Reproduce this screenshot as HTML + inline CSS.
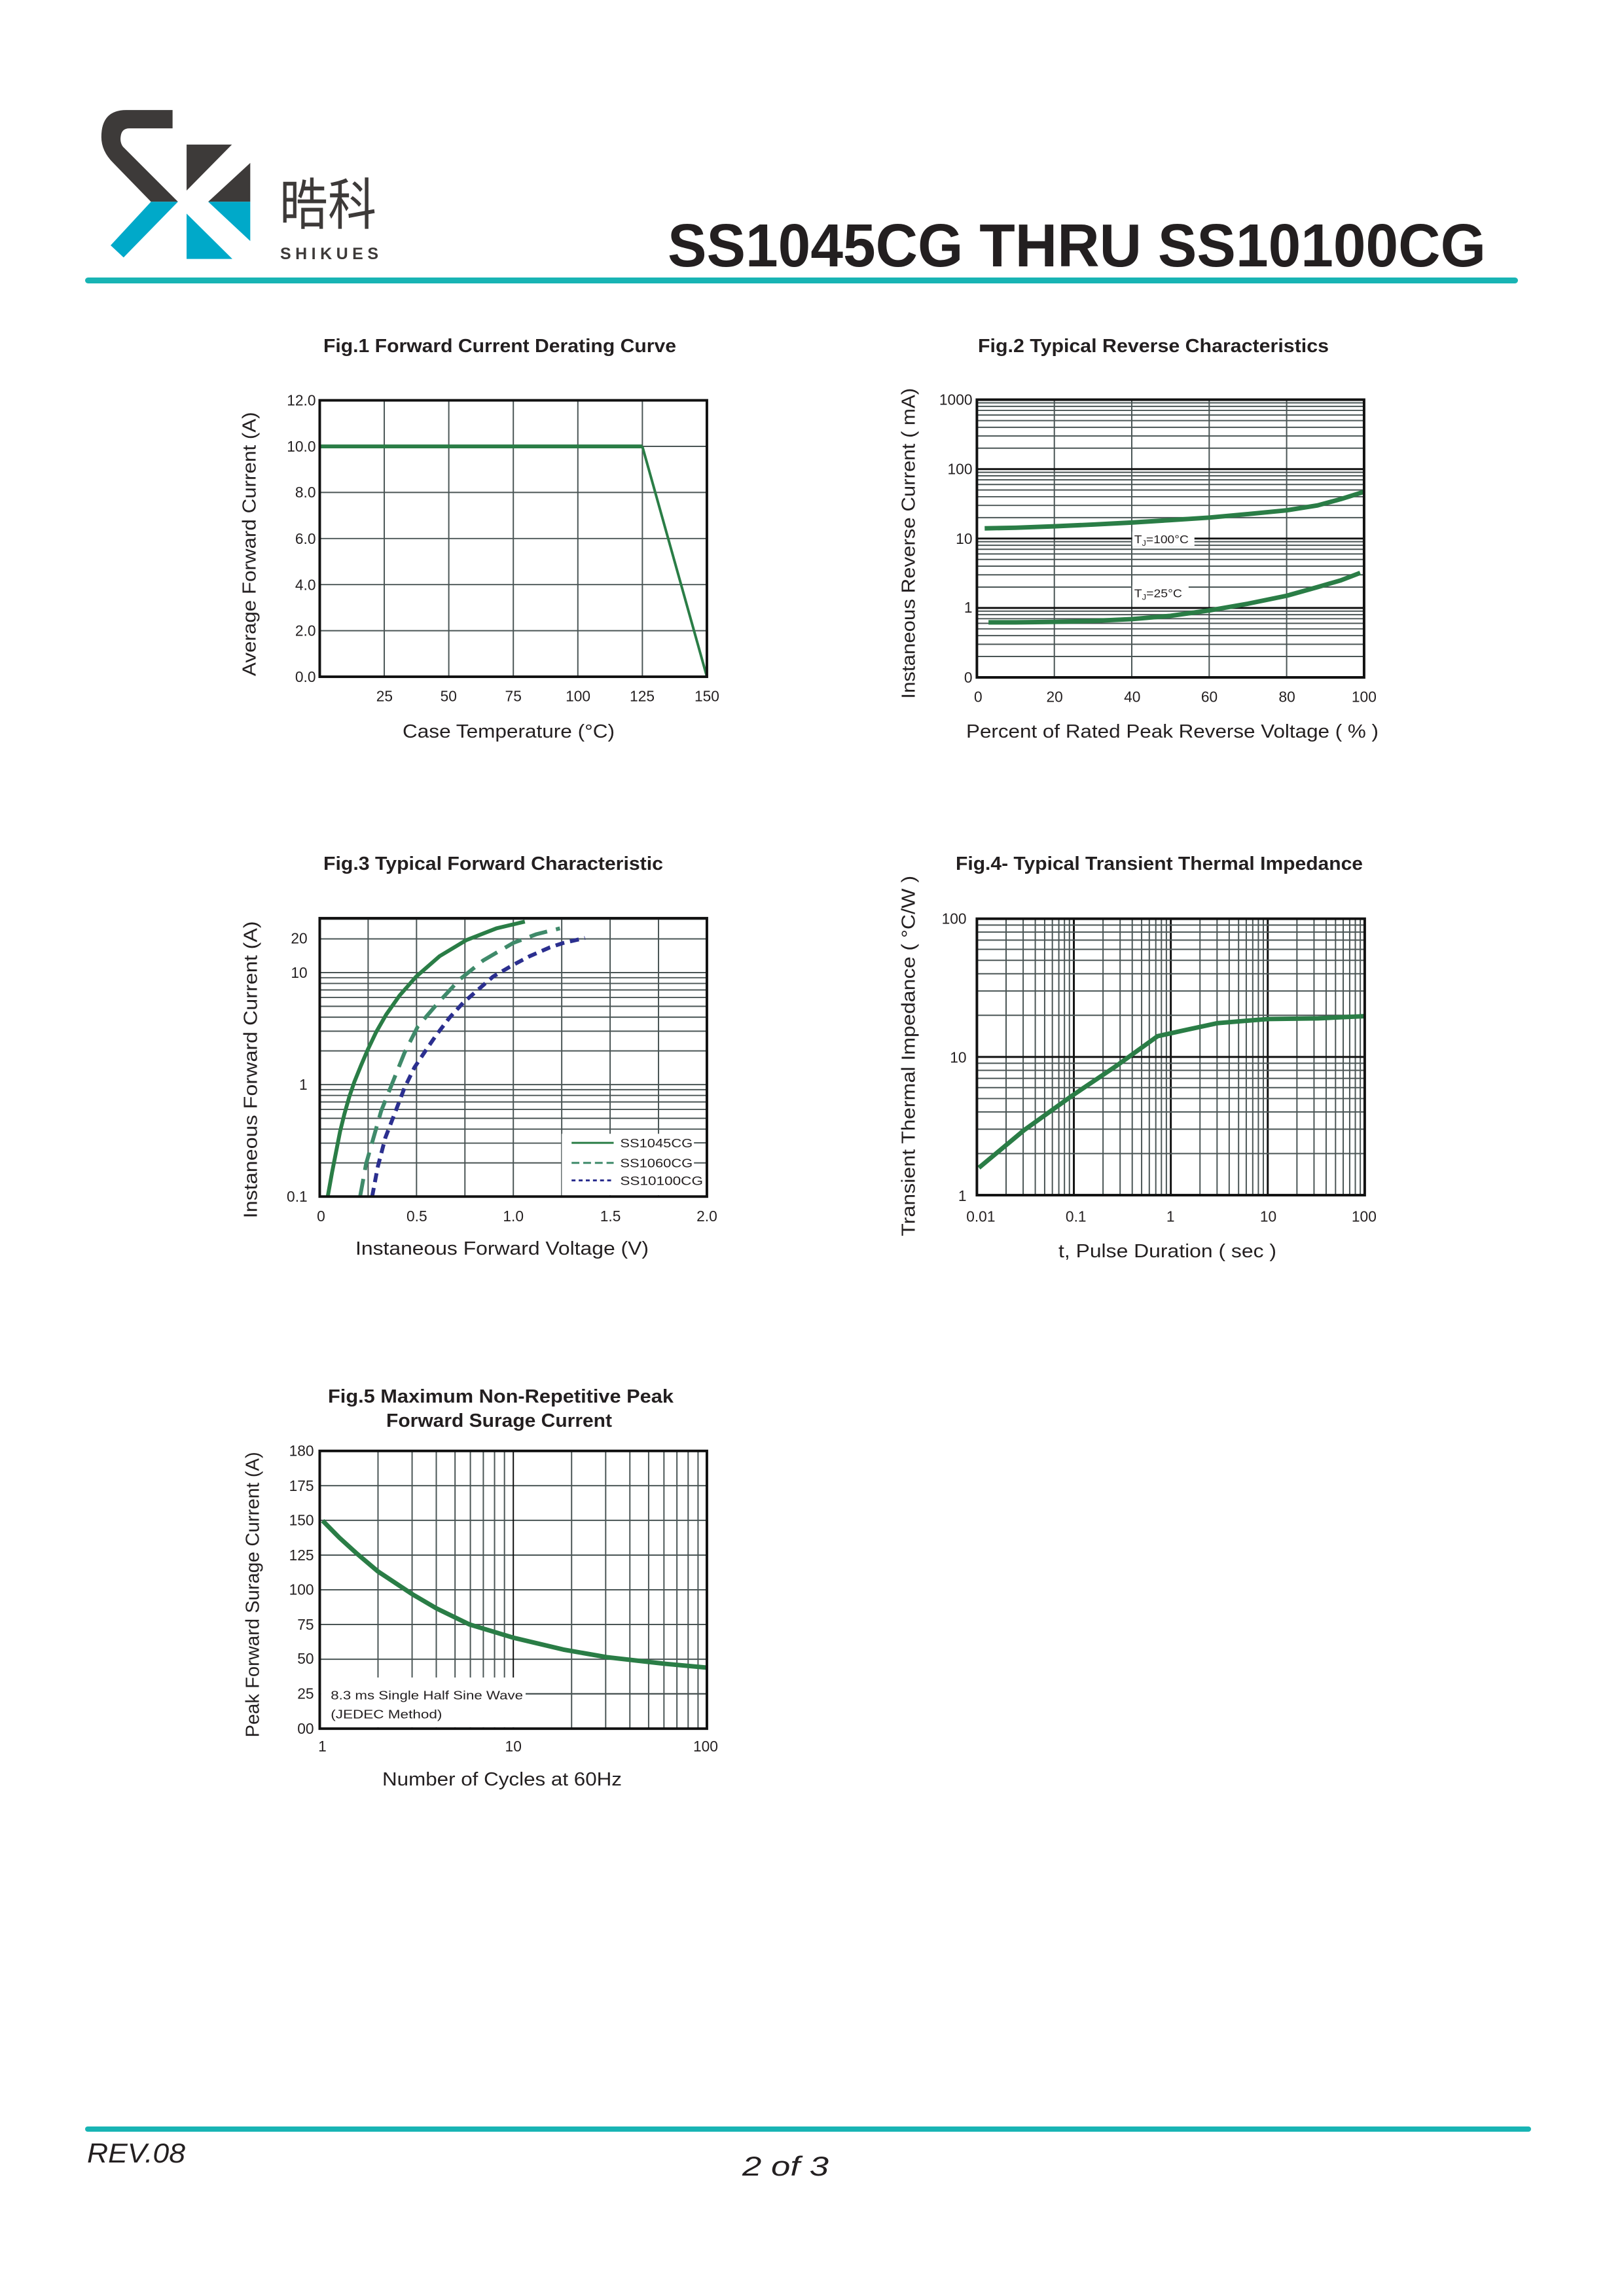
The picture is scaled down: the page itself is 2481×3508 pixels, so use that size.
<!DOCTYPE html>
<html><head><meta charset="utf-8"><style>
html,body{margin:0;padding:0;background:#fff}
svg{display:block}
text{font-family:"Liberation Sans",sans-serif;fill:#231f20}
.t{font-weight:bold}
</style></head><body>
<svg id="s" width="2481" height="3508" viewBox="0 0 2481 3508" xmlns="http://www.w3.org/2000/svg">
<rect width="2481" height="3508" fill="#fff"/>
<!-- logo -->
<g transform="translate(140,150) scale(0.3297)">
<path d="M375,55 L160,55 Q45,55 45,180 Q45,245 100,300 L275,480 L400,480 L145,225 Q130,205 135,175 Q140,140 175,140 L375,140 Z" fill="#3d3a39"/>
<path d="M275,480 L400,480 L148,738 L88,682 Z" fill="#00a9c9"/>
<path d="M440,215 L650,215 L440,428 Z" fill="#3d3a39"/>
<path d="M540,480 L735,300 L735,480 Z" fill="#3d3a39"/>
<path d="M540,480 L735,480 L735,662 Z" fill="#00a9c9"/>
<path d="M440,535 L652,745 L440,745 Z" fill="#00a9c9"/>
</g>
<text x="427" y="343" font-size="85" textLength="148" lengthAdjust="spacingAndGlyphs" style='font-family:"Liberation Sans","Noto Sans CJK SC",sans-serif;fill:#3d3a39'>晧科</text>
<text x="428" y="396" font-size="25" font-weight="bold" textLength="150" lengthAdjust="spacing" style="fill:#3d3a39">SHIKUES</text>
<text x="1020" y="407" font-size="93" font-weight="bold" textLength="1250" lengthAdjust="spacingAndGlyphs">SS1045CG THRU SS10100CG</text>
<rect x="130" y="424" width="2189" height="9" rx="4.5" fill="#18b4b4"/>
<!-- footer -->
<rect x="130" y="3249" width="2209" height="8" rx="4" fill="#18b4b4"/>
<text x="133" y="3304" font-size="42" font-style="italic" textLength="150" lengthAdjust="spacingAndGlyphs">REV.08</text>
<text x="1134" y="3324" font-size="42" font-style="italic" textLength="132" lengthAdjust="spacingAndGlyphs">2 of 3</text>

<!-- titles / x labels -->
<text class="t" x="494" y="538" font-size="29" textLength="539" lengthAdjust="spacingAndGlyphs">Fig.1  Forward Current Derating Curve</text>
<text x="615" y="1127" font-size="29" textLength="324" lengthAdjust="spacingAndGlyphs">Case Temperature (°C)</text>
<text class="t" x="1494" y="538" font-size="29" textLength="536" lengthAdjust="spacingAndGlyphs">Fig.2  Typical Reverse Characteristics</text>
<text x="1476" y="1127" font-size="29" textLength="630" lengthAdjust="spacingAndGlyphs">Percent of Rated Peak Reverse Voltage ( % )</text>
<text class="t" x="494" y="1329" font-size="29" textLength="519" lengthAdjust="spacingAndGlyphs">Fig.3  Typical Forward Characteristic</text>
<text x="543" y="1917" font-size="29" textLength="448" lengthAdjust="spacingAndGlyphs">Instaneous Forward Voltage (V)</text>
<text class="t" x="1460" y="1329" font-size="29" textLength="622" lengthAdjust="spacingAndGlyphs">Fig.4- Typical Transient Thermal Impedance</text>
<text x="1617" y="1921" font-size="29" textLength="333" lengthAdjust="spacingAndGlyphs">t, Pulse Duration ( sec )</text>
<text class="t" x="501" y="2143" font-size="29" textLength="528" lengthAdjust="spacingAndGlyphs">Fig.5  Maximum Non-Repetitive Peak</text>
<text class="t" x="590" y="2180" font-size="29" textLength="345" lengthAdjust="spacingAndGlyphs">Forward Surage Current</text>
<text x="584" y="2728" font-size="29" textLength="366" lengthAdjust="spacingAndGlyphs">Number of Cycles at 60Hz</text>

<!-- Fig1 -->
<g transform="matrix(0.9891,0,0,0.9891,3.8,6.3)">
<g id="f1g"></g><g id="f1c"></g>
<text transform="translate(391,834) rotate(-90)" text-anchor="middle" font-size="29" textLength="408" lengthAdjust="spacingAndGlyphs">Average Forward Current (A)</text>
<g font-size="23" text-anchor="end">
<text x="484" y="620">12.0</text><text x="484" y="691">10.0</text><text x="484" y="762">8.0</text><text x="484" y="834">6.0</text><text x="484" y="905">4.0</text><text x="484" y="976">2.0</text><text x="484" y="1047">0.0</text>
</g>
<g font-size="23" text-anchor="middle">
<text x="590" y="1077">25</text><text x="689" y="1077">50</text><text x="789" y="1077">75</text><text x="889" y="1077">100</text><text x="988" y="1077">125</text><text x="1088" y="1077">150</text>
</g>
<g id="f1b"></g>
</g>

<!-- Fig2 -->
<g transform="matrix(0.9891,0,0,0.9891,14.7,6.3)">
<g id="f2g"></g><g id="f2c"></g>
<text transform="translate(1398,833) rotate(-90)" text-anchor="middle" font-size="29" textLength="480" lengthAdjust="spacingAndGlyphs">Instaneous Reverse Current ( mA)</text>
<g font-size="23" text-anchor="end">
<text x="1487" y="619">1000</text><text x="1487" y="726">100</text><text x="1487" y="834">10</text><text x="1487" y="940">1</text><text x="1487" y="1048">0</text>
</g>
<g font-size="23" text-anchor="middle">
<text x="1496" y="1078">0</text><text x="1614" y="1078">20</text><text x="1734" y="1078">40</text><text x="1853" y="1078">60</text><text x="1973" y="1078">80</text><text x="2092" y="1078">100</text>
</g>
<rect x="1734" y="815" width="96" height="22" fill="#fff"/>
<text x="1737" y="833" font-size="18" textLength="84" lengthAdjust="spacingAndGlyphs">T<tspan font-size="12" dy="4">J</tspan><tspan dy="-4">=100°C</tspan></text>
<rect x="1734" y="898" width="87" height="22" fill="#fff"/>
<text x="1737" y="916" font-size="18" textLength="74" lengthAdjust="spacingAndGlyphs">T<tspan font-size="12" dy="4">J</tspan><tspan dy="-4">=25°C</tspan></text>
<g id="f2b"></g>
</g>

<!-- Fig3 -->
<g transform="matrix(0.9891,0,0,0.9891,3.8,14.2)">
<g id="f3g"></g><g id="f3c"></g>
<text transform="translate(393,1638) rotate(-90)" text-anchor="middle" font-size="29" textLength="459" lengthAdjust="spacingAndGlyphs">Instaneous Forward Current  (A)</text>
<g font-size="23" text-anchor="end">
<text x="471" y="1443">20</text><text x="471" y="1496">10</text><text x="471" y="1669">1</text><text x="471" y="1842">0.1</text>
</g>
<g font-size="23" text-anchor="middle">
<text x="492" y="1872">0</text><text x="640" y="1872">0.5</text><text x="789" y="1872">1.0</text><text x="939" y="1872">1.5</text><text x="1088" y="1872">2.0</text>
</g>
<rect x="864" y="1737" width="222" height="95" fill="#fff"/>
<line x1="879" y1="1751" x2="944" y2="1751" stroke="#2a7d46" stroke-width="3"/>
<line x1="879" y1="1782" x2="944" y2="1782" stroke="#3f8a6a" stroke-width="3" stroke-dasharray="12,6"/>
<line x1="879" y1="1809" x2="944" y2="1809" stroke="#2b2f8f" stroke-width="3" stroke-dasharray="6,5"/>
<text x="954" y="1758" font-size="19" textLength="112" lengthAdjust="spacingAndGlyphs">SS1045CG</text>
<text x="954" y="1789" font-size="19" textLength="112" lengthAdjust="spacingAndGlyphs">SS1060CG</text>
<text x="954" y="1816" font-size="19" textLength="128" lengthAdjust="spacingAndGlyphs">SS10100CG</text>
<line x1="1068" y1="1751" x2="1088" y2="1751" stroke="#4a5555" stroke-width="2"/>
<line x1="1068" y1="1782" x2="1088" y2="1782" stroke="#4a5555" stroke-width="2"/>
<g id="f3b"></g>
</g>

<!-- Fig4 -->
<g transform="matrix(0.9891,0,0,0.9891,14.7,15.0)">
<g id="f4g"></g><g id="f4c"></g>
<text transform="translate(1398,1616) rotate(-90)" text-anchor="middle" font-size="29" textLength="557" lengthAdjust="spacingAndGlyphs">Transient Thermal Impedance ( °C/W )</text>
<g font-size="23" text-anchor="end">
<text x="1478" y="1412">100</text><text x="1478" y="1626">10</text><text x="1478" y="1840">1</text>
</g>
<g font-size="23" text-anchor="middle">
<text x="1500" y="1872">0.01</text><text x="1647" y="1872">0.1</text><text x="1793" y="1872">1</text><text x="1944" y="1872">10</text><text x="2092" y="1872">100</text>
</g>
<g id="f4b"></g>
</g>

<!-- Fig5 -->
<g transform="matrix(0.9891,0,0,0.9891,3.8,24.0)">
<g id="f5g"></g><g id="f5c"></g>
<text transform="translate(396,2439) rotate(-90)" text-anchor="middle" font-size="29" textLength="441" lengthAdjust="spacingAndGlyphs">Peak Forward Surage Current (A)</text>
<g font-size="23" text-anchor="end">
<text x="481" y="2225">180</text><text x="481" y="2279">175</text><text x="481" y="2332">150</text><text x="481" y="2386">125</text><text x="481" y="2439">100</text><text x="481" y="2493">75</text><text x="481" y="2546">50</text><text x="481" y="2600">25</text><text x="481" y="2654">00</text>
</g>
<g font-size="23" text-anchor="middle">
<text x="494" y="2681">1</text><text x="789" y="2681">10</text><text x="1086" y="2681">100</text>
</g>
<rect x="492" y="2567" width="316" height="77" fill="#fff"/>
<line x1="808" y1="2592" x2="1088" y2="2592" stroke="#4a5555" stroke-width="2"/>
<text x="507" y="2601" font-size="19" textLength="297" lengthAdjust="spacingAndGlyphs">8.3 ms Single Half Sine Wave</text>
<text x="507" y="2630" font-size="19" textLength="172" lengthAdjust="spacingAndGlyphs">(JEDEC Method)</text>
<g id="f5b"></g>
</g>
</svg>
<script>
var NS="http://www.w3.org/2000/svg";
function $(i){return document.getElementById(i)}
function L(p,x1,y1,x2,y2,c,w){var e=document.createElementNS(NS,"line");e.setAttribute("x1",x1);e.setAttribute("y1",y1);e.setAttribute("x2",x2);e.setAttribute("y2",y2);e.setAttribute("stroke",c||"#4a5555");e.setAttribute("stroke-width",w||2);p.appendChild(e);}
function P(C,pts,c,w,dash){var e=document.createElementNS(NS,"polyline");e.setAttribute("points",pts.map(function(p){return p[0].toFixed(1)+","+p[1].toFixed(1)}).join(" "));e.setAttribute("fill","none");e.setAttribute("stroke",c);e.setAttribute("stroke-width",w);e.setAttribute("stroke-linejoin","round");if(dash)e.setAttribute("stroke-dasharray",dash);C.appendChild(e);}
function box(B,x0,y0,x1,y1){var e=document.createElementNS(NS,"rect");e.setAttribute("x",x0);e.setAttribute("y",y0);e.setAttribute("width",x1-x0);e.setAttribute("height",y1-y0);e.setAttribute("fill","none");e.setAttribute("stroke","#111");e.setAttribute("stroke-width",4);B.appendChild(e);}
var GR="#4a5555";
// Fig1
(function(){var G=$("f1g"),C=$("f1c"),x0=490,x1=1088,y0=612,y1=1039;
for(var i=1;i<6;i++){var x=x0+i*(x1-x0)/6;L(G,x,y0,x,y1);}
for(var j=1;j<6;j++){var y=y1-j*(y1-y0)/6;L(G,x0,y,x1,y);}
var yy=y1-10/12*(y1-y0),xx=x0+125/150*(x1-x0);
P(C,[[x0,yy],[xx,yy]],"#2a7d46",6);P(C,[[xx,yy],[x1,y1]],"#2a7d46",4);
box($("f1b"),x0,y0,x1,y1);})();
// Fig2
(function(){var G=$("f2g"),C=$("f2c"),x0=1494,x1=2092,y0=611,y1=1040,d=(y1-y0)/4;
for(var i=1;i<5;i++){var x=x0+i*(x1-x0)/5;L(G,x,y0,x,y1);}
for(var k=0;k<4;k++){for(var m=1;m<10;m++){var y=y1-(k+Math.log10(m))*d;L(G,x0,y,x1,y,m==1?"#111":GR,m==1?3:2);}}
function Y(v){return y1-(Math.log10(v)+1)*d}function X(p){return x0+p/100*(x1-x0)}
var a=[[2,14],[10,14.3],[20,15],[30,15.9],[40,17],[50,18.4],[60,20],[70,22.5],[80,25.5],[88,30],[94,37],[100,47]];
var b=[[3,0.62],[10,0.62],[20,0.63],[30,0.65],[40,0.69],[50,0.77],[60,0.92],[70,1.15],[80,1.5],[88,2.0],[94,2.5],[99,3.2]];
P(C,a.map(function(p){return[X(p[0]),Y(p[1])]}),"#2a7d46",7);
P(C,b.map(function(p){return[X(p[0]),Y(p[1])]}),"#2a7d46",7);
box($("f2b"),x0,y0,x1,y1);})();
// Fig3
(function(){var G=$("f3g"),C=$("f3c"),x0=490,x1=1088,y0=1404,y1=1834,d=173;
for(var i=1;i<8;i++){var x=x0+i*(x1-x0)/8;L(G,x,y0,x,y1);}
for(var k=0;k<3;k++){for(var m=1;m<10;m++){var y=y1-(k+Math.log10(m))*d;if(y>y0)L(G,x0,y,x1,y,(k==2&&m==5)?"#111":GR,2);}}
function f(p){return[350+p[0]/1.9375,1300+p[1]/2.214]}
P(C,[[295,1183],[308,1100],[320,1030],[332,960],[345,900],[360,840],[375,790],[395,733],[415,680],[440,620],[470,560],[510,495],[560,430],[630,360],[710,305],[800,265],[885,242]].map(f),"#2a7d46",6);
P(C,[[392,1183],[410,1070],[430,990],[455,890],[490,790],[525,690],[565,600],[625,520],[690,440],[760,375],[850,315],[920,285],[990,265]].map(f),"#3f8a6a",6,"28,14");
P(C,[[428,1183],[445,1080],[468,980],[495,900],[525,810],[555,740],[590,680],[620,630],[660,570],[700,520],[740,480],[790,430],[850,390],[900,360],[960,330],[1000,315],[1065,298]].map(f),"#2b2f8f",6,"14,9");
box($("f3b"),x0,y0,x1,y1);})();
// Fig4
(function(){var G=$("f4g"),C=$("f4c"),x0=1494,x1=2093,y0=1404,y1=1831,dx=(x1-x0)/4,dy=(y1-y0)/2;
for(var k=0;k<4;k++){for(var m=1;m<10;m++){var x=x0+(k+Math.log10(m))*dx;L(G,x,y0,x,y1,m==1?"#111":GR,m==1?3:2);}}
for(var k=0;k<2;k++){for(var m=1;m<10;m++){var y=y1-(k+Math.log10(m))*dy;L(G,x0,y,x1,y,m==1?"#111":GR,m==1?3:2);}}
function f(p){return[1350+p[0]/1.9375,1380+p[1]/2.98]}
P(C,[[285,1218],[420,1045],[565,885],[700,745],[820,612],[900,585],[1000,552],[1150,533],[1300,530],[1440,520]].map(f),"#2a7d46",7);
box($("f4b"),x0,y0,x1,y1);})();
// Fig5
(function(){var G=$("f5g"),C=$("f5c"),x0=490,x1=1088,y0=2217,y1=2646,dx=(x1-x0)/2,dy=(y1-y0)/8;
for(var j=1;j<8;j++){var y=y1-j*dy;L(G,x0,y,x1,y);}
for(var k=0;k<2;k++){for(var m=2;m<=10;m++){var x=x0+(k+Math.log10(m))*dx;if(x<x1-2)L(G,x,y0,x,y1,(k==0&&m==10)?"#111":GR,2);}}
function f(p){return[350+p[0]/1.9375,2200+p[1]/2.98]}
P(C,[[280,372],[330,450],[380,520],[445,605],[550,712],[620,775],[720,850],[850,910],[1000,965],[1130,1000],[1300,1030],[1430,1048]].map(f),"#2a7d46",7);
box($("f5b"),x0,y0,x1,y1);})();
</script>
</body></html>
